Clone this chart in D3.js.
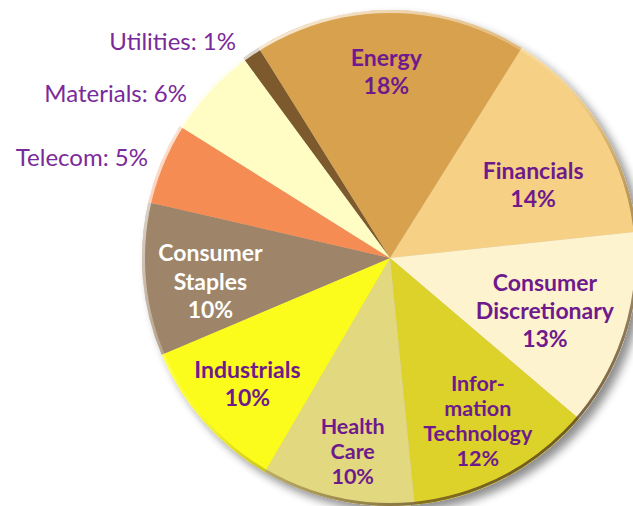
<!DOCTYPE html>
<html>
<head>
<meta charset="utf-8">
<script src="https://cdn.jsdelivr.net/npm/d3@7"></script>
<style>
  html, body { margin: 0; padding: 0; background: #fff; overflow: hidden; }
  svg { display: block; }
  .lbl { font-family: Lato, "Open Sans", sans-serif; }
</style>
</head>
<body>
<div id="chart"></div>
<script>
// sectors, clockwise from the top-left sliver
const categories = ["Utilities", "Energy", "Financials", "Consumer Discretionary",
    "Information Technology", "Health Care", "Industrials", "Consumer Staples",
    "Telecom", "Materials"];
// slice sizes
const values = [1.2, 17.8, 14.4, 12.9, 12.2, 10.0, 10.2, 10.0, 5.3, 6.0];
// printed percentages
const pctLabels = ["1%", "18%", "14%", "13%", "12%", "10%", "10%", "10%", "5%", "6%"];
// how each name is broken over lines inside its slice
const nameLines = [["Utilities"], ["Energy"], ["Financials"], ["Consumer", "Discretionary"],
    ["Infor-", "mation", "Technology"], ["Health", "Care"], ["Industrials"],
    ["Consumer", "Staples"], ["Telecom"], ["Materials"]];

const colors = ["#7b5a2d", "#d8a14d", "#f5d085", "#fef3cf", "#dcd22b",
    "#e2d87f", "#fcfc1b", "#9e8468", "#f58c53", "#fffcc4"];

const width = 633, height = 506;
const cx = 390, cy = 258, R = 248;
const startAngle = -36.3 * Math.PI / 180;

// label placement inside: [radius, angle nudge in degrees, line gap, font size]
const inside = {
    "Energy": [186, -1.2, 28, 23],
    "Financials": [160.6, 5.0, 28, 23],
    "Consumer Discretionary": [163.8, 1.8, 28, 23],
    "Information Technology": [184.8, -0.7, 25, 21.5],
    "Health Care": [196.5, -1.35, 25, 21.5],
    "Industrials": [190.2, -0.1, 28, 23],
    "Consumer Staples": [181.1, -2.5, 28.5, 23]
};
// outer labels: right end and baseline
const outside = {
    "Utilities": [236, 50], "Materials": [187, 102], "Telecom": [148, 166]
};

const svg = d3.select("#chart").append("svg")
    .attr("width", width)
    .attr("height", height);

const defs = svg.append("defs");
const shadow = defs.append("filter").attr("id", "shadow")
    .attr("x", "-10%").attr("y", "-10%").attr("width", "130%").attr("height", "130%");
shadow.append("feGaussianBlur").attr("in", "SourceAlpha").attr("stdDeviation", 5);
shadow.append("feOffset").attr("dx", 6).attr("dy", 6).attr("result", "off");
shadow.append("feComponentTransfer").append("feFuncA").attr("type", "linear").attr("slope", 0.45);
const merge = shadow.append("feMerge");
merge.append("feMergeNode");
merge.append("feMergeNode").attr("in", "SourceGraphic");

const rim = defs.append("linearGradient").attr("id", "rim")
    .attr("x1", "15%").attr("y1", "10%").attr("x2", "85%").attr("y2", "90%");
rim.append("stop").attr("offset", "0%").attr("stop-color", "#fff").attr("stop-opacity", 0.8);
rim.append("stop").attr("offset", "45%").attr("stop-color", "#fff").attr("stop-opacity", 0.1);
rim.append("stop").attr("offset", "60%").attr("stop-color", "#5a4020").attr("stop-opacity", 0.2);
rim.append("stop").attr("offset", "100%").attr("stop-color", "#5a4020").attr("stop-opacity", 0.85);

const pie = d3.pie()
    .sort(null)
    .startAngle(startAngle)
    .endAngle(startAngle + 2 * Math.PI)
    .value(d => d);

const arcs = pie(values);
const arc = d3.arc().innerRadius(0).outerRadius(R);

const g = svg.append("g").attr("transform", `translate(${cx},${cy})`);

const slices = g.append("g").attr("filter", "url(#shadow)");
slices.selectAll("path")
    .data(arcs)
    .join("path")
    .attr("d", arc)
    .attr("fill", (d, i) => colors[i]);

// bevelled edge
g.append("circle")
    .attr("r", R - 1.5)
    .attr("fill", "none")
    .attr("stroke", "url(#rim)")
    .attr("stroke-width", 3);

const purple = "#6e1a8c";

arcs.forEach((d, i) => {
    const name = categories[i];
    if (inside[name]) {
        const [r, nudge, gap, fs] = inside[name];
        const a = (d.startAngle + d.endAngle) / 2 + nudge * Math.PI / 180;
        const x = r * Math.sin(a), y = -r * Math.cos(a);
        const lines = nameLines[i].concat([pctLabels[i]]);
        const t = g.append("text")
            .attr("class", "lbl")
            .attr("text-anchor", "middle")
            .attr("font-size", fs)
            .attr("font-weight", "bold")
            .attr("fill", name === "Consumer Staples" ? "#fff" : purple);
        lines.forEach((ln, k) => {
            t.append("tspan")
                .attr("x", x)
                .attr("y", y + (k - (lines.length - 1) / 2) * gap + 8)
                .text(ln);
        });
    } else {
        const [x, y] = outside[name];
        svg.append("text")
            .attr("class", "lbl")
            .attr("x", x)
            .attr("y", y)
            .attr("text-anchor", "end")
            .attr("font-size", 24)
            .attr("fill", "#7a2a9a")
            .text(`${name}: ${pctLabels[i]}`);
    }
});
</script>
</body>
</html>
